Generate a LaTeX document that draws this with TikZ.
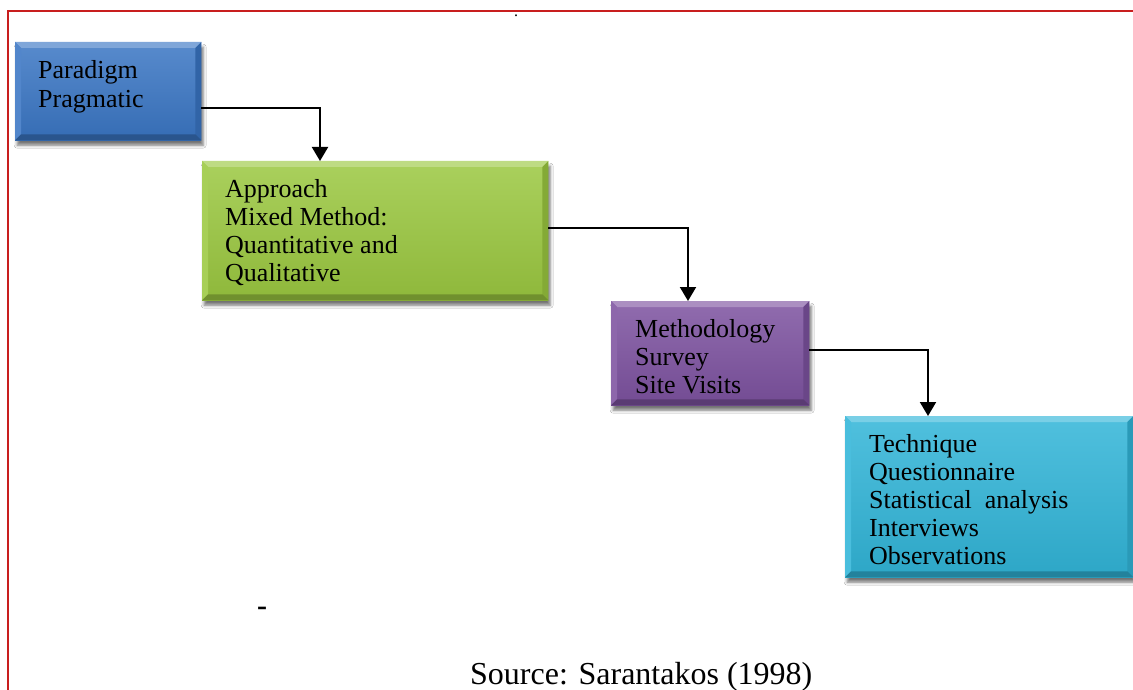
\documentclass[tikz,border=0pt]{standalone}
\usepackage{fontspec}
\setmainfont{Liberation Serif}
\usetikzlibrary{calc,arrows.meta,shadows.blur}

\definecolor{paradigmblue}{HTML}{3A76C4}
\definecolor{approachgreen}{HTML}{9BC840}
\definecolor{methodpurple}{HTML}{7D52A0}
\definecolor{techcyan}{HTML}{31B5D8}
\definecolor{framered}{HTML}{C81E1E}

\tikzset{
  stage/.style={rectangle, inner sep=0pt, draw=none, anchor=north west,
    blur shadow={shadow xshift=2pt, shadow yshift=-5pt,
      shadow blur radius=3pt, shadow opacity=55}},
  stagetext/.style={anchor=north west, inner sep=0pt, align=left,
    font=\fontsize{26}{28}\selectfont, text=black},
  conn/.style={line width=2pt, -{Triangle[width=16pt,length=14pt]}},
  frame/.style={draw=framered, line width=2pt},
}

% bevelled edges of a stage box: light top, dark right and bottom
\newcommand{\stagebevel}[2]{%
  \fill[#2!65!white] (#1.north west) -- (#1.north east)
    -- ($(#1.north east)+(-6,6)$) -- ($(#1.north west)+(6,6)$) -- cycle;
  \fill[#2!88!white] (#1.north west) -- ($(#1.north west)+(6,6)$)
    -- ($(#1.south west)+(6,-6)$) -- (#1.south west) -- cycle;
  \fill[#2!85!black] (#1.north east) -- (#1.south east)
    -- ($(#1.south east)+(-6,-6)$) -- ($(#1.north east)+(-6,6)$) -- cycle;
  \fill[#2!72!black] (#1.south west) -- (#1.south east)
    -- ($(#1.south east)+(-6,-6)$) -- ($(#1.south west)+(6,-6)$) -- cycle;
}

\begin{document}
\begin{tikzpicture}[x=1pt, y=-1pt]
  \useasboundingbox (0,0) rectangle (1133,690);
  \clip (0,0) rectangle (1133,690);
  \fill[white] (0,0) rectangle (1133,690);

  % page frame
  \draw[frame] (8,11) rectangle (1160,720);
  \node[inner sep=0pt, anchor=base, font=\fontsize{16}{18}\selectfont] (dot) at (516,17) {.};

  % stage boxes
  \node[stage, minimum width=186pt, minimum height=98pt,
        top color=paradigmblue!85!white, bottom color=paradigmblue!92!black] (P) at (15,42) {};
  \node[stage, minimum width=346pt, minimum height=139pt,
        top color=approachgreen!85!white, bottom color=approachgreen!92!black] (A) at (202,161) {};
  \node[stage, minimum width=198pt, minimum height=104pt,
        top color=methodpurple!85!white, bottom color=methodpurple!92!black] (M) at (611,301) {};
  \node[stage, minimum width=288pt, minimum height=161pt,
        top color=techcyan!85!white, bottom color=techcyan!92!black] (T) at (845,416) {};

  \stagebevel{P}{paradigmblue}
  \stagebevel{A}{approachgreen}
  \stagebevel{M}{methodpurple}
  \stagebevel{T}{techcyan}

  % stage texts
  \node[stagetext] (Ptext) at ($(P.north west)+(23,16)$)
    {\rule{0pt}{20pt}Paradigm\\[1pt]Pragmatic};
  \node[stagetext] (Atext) at ($(A.north west)+(23,16)$)
    {\rule{0pt}{20pt}Approach\\Mixed Method:\\Quantitative and\\Qualitative};
  \node[stagetext] (Mtext) at ($(M.north west)+(24,16)$)
    {\rule{0pt}{20pt}Methodology\\Survey\\Site Visits};
  \node[stagetext] (Ttext) at ($(T.north west)+(24,16)$)
    {\rule{0pt}{20pt}Technique\\Questionnaire\\Statistical\ \ analysis\\Interviews\\Observations};

  % connectors
  \draw[conn] ([yshift=-17pt]P.east) -| ([xshift=118pt]A.north west);
  \draw[conn] ([yshift=3pt]A.east) -| ([xshift=77pt]M.north west);
  \draw[conn] ([yshift=3pt]M.east) -| ([xshift=83pt]T.north west);

  % loose marks and source line
  \node[inner sep=0pt, font=\fontsize{30}{32}\selectfont\bfseries] (dash) at (262,611) {-};
  \node[inner sep=0pt, anchor=base west, font=\fontsize{32}{36}\selectfont] (source) at (470,684)
    {Source: Sarantakos (1998)};
\end{tikzpicture}
\end{document}
